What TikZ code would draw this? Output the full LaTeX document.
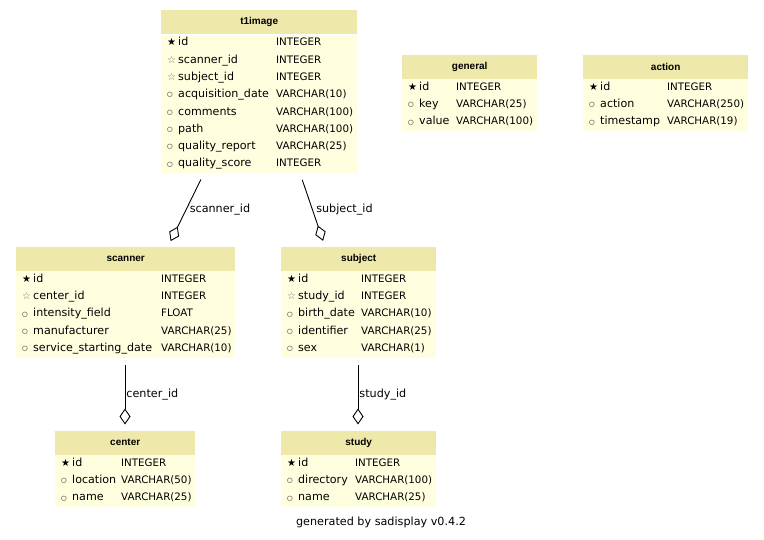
\documentclass[tikz,border=0pt]{standalone}
\usepackage{fontspec}
\newfontfamily\fieldfont{DejaVu Sans}
\newfontfamily\titlefont{Liberation Sans}
\usetikzlibrary{positioning,arrows.meta}
\definecolor{headfill}{RGB}{238,232,170}
\definecolor{rowfill}{RGB}{255,255,224}
\definecolor{fkgray}{RGB}{115,115,115}

% field markers and one table row
\newcommand{\pkey}{\makebox[9pt][l]{\fontsize{10}{10}\selectfont ★}}
\newcommand{\fkey}{\makebox[9pt][l]{\fontsize{10}{10}\selectfont\textcolor{fkgray}{☆}}}
\newcommand{\attr}{\makebox[9pt][l]{\raisebox{0.9pt}{\fontsize{6.5}{8}\selectfont ○}}}
\newcommand{\rowstrut}{\rule[-6pt]{0pt}{17.3pt}}
\newcommand{\erfield}[3]{#1\hspace{2pt}#2 & {\fontsize{10.3}{12}\selectfont #3}\rowstrut\\}

\begin{document}
\begin{tikzpicture}[
    x=1pt, y=-1pt,
    tablehead/.style={fill=headfill, anchor=north west, inner sep=0pt, minimum height=24pt, font=\titlefont\bfseries\fontsize{10}{12}\selectfont},
    tablebody/.style={fill=rowfill, inner sep=0pt, font=\fieldfont\fontsize{11.1}{13}\selectfont},
    lbl/.style={font=\fieldfont\fontsize{11.2}{13}\selectfont},
    fk/.style={line width=0.9pt, -{Diamond[open, length=16pt, width=11pt]}, shorten <=7pt, shorten >=6pt},
]
\useasboundingbox[fill=white] (0,0) rectangle (764,540);

% Tables
\node[tablehead, minimum width=196pt] (t1head) at (161,10) {t1image};
\node[tablebody, below=0pt of t1head] (t1body) {%
\begin{tabular}{@{\hspace{6pt}}p{109pt}@{}p{75pt}@{\hspace{6pt}}}
\erfield{\pkey}{id}{INTEGER}
\erfield{\fkey}{scanner\_id}{INTEGER}
\erfield{\fkey}{subject\_id}{INTEGER}
\erfield{\attr}{acquisition\_date}{VARCHAR(10)}
\erfield{\attr}{comments}{VARCHAR(100)}
\erfield{\attr}{path}{VARCHAR(100)}
\erfield{\attr}{quality\_report}{VARCHAR(25)}
\erfield{\attr}{quality\_score}{INTEGER}
\end{tabular}};

\node[tablehead, minimum width=135pt] (generalhead) at (402,54.5) {general};
\node[tablebody, below=0pt of generalhead] (generalbody) {%
\begin{tabular}{@{\hspace{6pt}}p{48pt}@{}p{75pt}@{\hspace{6pt}}}
\erfield{\pkey}{id}{INTEGER}
\erfield{\attr}{key}{VARCHAR(25)}
\erfield{\attr}{value}{VARCHAR(100)}
\end{tabular}};

\node[tablehead, minimum width=165pt] (actionhead) at (583,54.5) {action};
\node[tablebody, below=0pt of actionhead] (actionbody) {%
\begin{tabular}{@{\hspace{6pt}}p{78pt}@{}p{75pt}@{\hspace{6pt}}}
\erfield{\pkey}{id}{INTEGER}
\erfield{\attr}{action}{VARCHAR(250)}
\erfield{\attr}{timestamp}{VARCHAR(19)}
\end{tabular}};

\node[tablehead, minimum width=219pt] (scannerhead) at (16,246.5) {scanner};
\node[tablebody, below=0pt of scannerhead] (scannerbody) {%
\begin{tabular}{@{\hspace{6pt}}p{139pt}@{}p{68pt}@{\hspace{6pt}}}
\erfield{\pkey}{id}{INTEGER}
\erfield{\fkey}{center\_id}{INTEGER}
\erfield{\attr}{intensity\_field}{FLOAT}
\erfield{\attr}{manufacturer}{VARCHAR(25)}
\erfield{\attr}{service\_starting\_date}{VARCHAR(10)}
\end{tabular}};

\node[tablehead, minimum width=155pt] (subjecthead) at (281,246.5) {subject};
\node[tablebody, below=0pt of subjecthead] (subjectbody) {%
\begin{tabular}{@{\hspace{6pt}}p{74pt}@{}p{69pt}@{\hspace{6pt}}}
\erfield{\pkey}{id}{INTEGER}
\erfield{\fkey}{study\_id}{INTEGER}
\erfield{\attr}{birth\_date}{VARCHAR(10)}
\erfield{\attr}{identifier}{VARCHAR(25)}
\erfield{\attr}{sex}{VARCHAR(1)}
\end{tabular}};

\node[tablehead, minimum width=140pt] (centerhead) at (55,430.5) {center};
\node[tablebody, below=0pt of centerhead] (centerbody) {%
\begin{tabular}{@{\hspace{6pt}}p{60pt}@{}p{68pt}@{\hspace{6pt}}}
\erfield{\pkey}{id}{INTEGER}
\erfield{\attr}{location}{VARCHAR(50)}
\erfield{\attr}{name}{VARCHAR(25)}
\end{tabular}};

\node[tablehead, minimum width=155pt] (studyhead) at (281,430.5) {study};
\node[tablebody, below=0pt of studyhead] (studybody) {%
\begin{tabular}{@{\hspace{6pt}}p{68pt}@{}p{75pt}@{\hspace{6pt}}}
\erfield{\pkey}{id}{INTEGER}
\erfield{\attr}{directory}{VARCHAR(100)}
\erfield{\attr}{name}{VARCHAR(25)}
\end{tabular}};

% Foreign keys
\draw[fk] ([xshift=43pt]t1body.south west) -- node[lbl, right]{scanner\_id} ([xshift=152pt]scannerhead.north west);
\draw[fk] ([xshift=139pt]t1body.south west) -- node[lbl, right]{subject\_id} ([xshift=44pt]subjecthead.north west);
\draw[fk] ([xshift=109pt]scannerbody.south west) -- node[lbl, right, inner xsep=1pt]{center\_id} ([xshift=70pt]centerhead.north west);
\draw[fk] ([xshift=77pt]subjectbody.south west) -- node[lbl, right, inner xsep=1pt]{study\_id} ([xshift=77pt]studyhead.north west);

\node[lbl] (footer) at (381,522) {generated by sadisplay v0.4.2};

\end{tikzpicture}
\end{document}
